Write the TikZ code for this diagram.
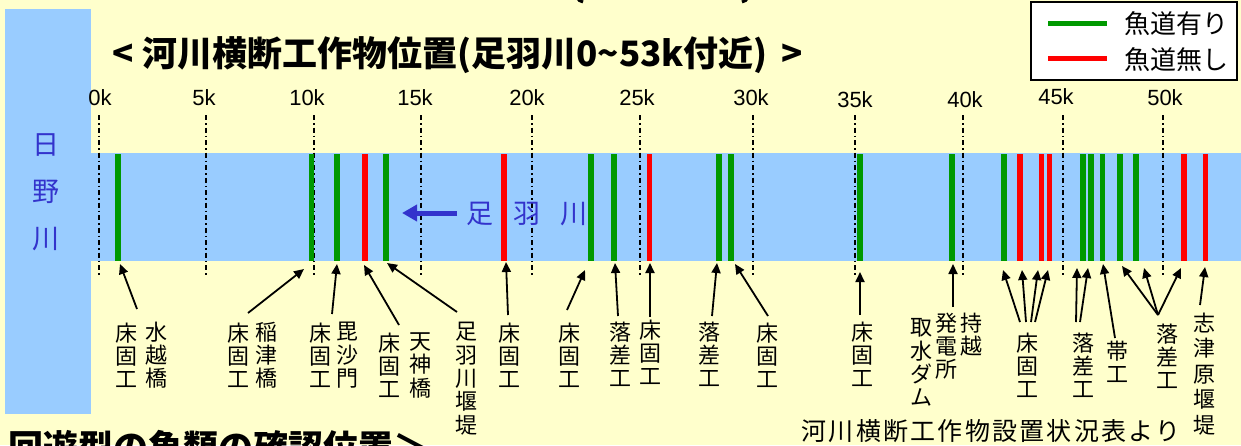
\documentclass[tikz,border=0pt]{standalone}
\usepackage{fontspec}
\setmainfont{Noto Sans CJK JP}
\newfontfamily\latf{Liberation Sans}
\usetikzlibrary{arrows.meta}
\definecolor{bgyellow}{HTML}{FFFFCC}
\definecolor{riverblue}{HTML}{99CCFF}
\definecolor{textblue}{HTML}{3333CC}
\definecolor{fishgreen}{HTML}{009900}
\definecolor{fishred}{HTML}{FF0000}
\begin{document}
\begin{tikzpicture}[x=1pt,y=-1pt,
  barbox/.style={minimum width=5.5pt, minimum height=107.5pt, inner sep=0pt, draw=none},
  gbar/.style={barbox, fill=fishgreen},
  rbar/.style={barbox, fill=fishred},
  kline/.style={line width=1.3pt, dash pattern=on 5pt off 3pt on 1.5pt off 3pt},
  ticklab/.style={font=\latf\fontsize{22}{22}\selectfont, inner sep=0pt},
  lab/.style={font=\fontsize{22}{23.3}\selectfont, align=center, inner sep=0pt},
  arr/.style={line width=1.8pt, -{Triangle[length=10pt,width=9pt]}},
]
\useasboundingbox (0,0) rectangle (1241,445);
\fill[bgyellow] (0,0) rectangle (1241,445);
\clip (0,0) rectangle (1241,445);
% partial elements cut by the frame
\draw[line width=3pt] (577,-3) to[bend right=30] (583,2);
\draw[line width=3pt] (748,-3) to[bend left=30] (742,2);
\node[font=\bfseries\fontsize{35}{35}\selectfont, anchor=base west, inner sep=0pt] (bottitle) at (8,460) {回遊型の魚類の確認位置＞};
% left river box
\fill[riverblue] (5,9) rectangle (91,414);
\node[font=\fontsize{27}{47}\selectfont, text=textblue, align=center, inner sep=0pt] (hino) at (46,192) {日\\野\\川};
% river band
\fill[riverblue] (91,153) rectangle (1241,261);
% title
\node[font=\bfseries\fontsize{35}{35}\selectfont, anchor=west, inner sep=0pt] (title) at (112,55) {<\hspace{9pt}河川横断工作物位置(足羽川0\textasciitilde53k付近)\hspace{14pt}>};
% km ticks
\foreach \x/\lx/\t/\ly in {99/100/0k/98, 206/204/5k/98, 314/307/10k/98, 421/415/15k/98, 532/527/20k/98, 640/637/25k/98, 753/751/30k/98, 855/855/35k/100, 963/965/40k/100, 1063/1056/45k/97, 1163/1165/50k/98}{
  \draw[kline] (\x,115) -- (\x,275);
  \node[ticklab] (k\t) at (\lx,\ly) {\t};
}
% bars
\foreach \x/\s [count=\i] in {118/gbar, 311.5/gbar, 337/gbar, 365/rbar, 386/gbar, 504/rbar, 591/gbar, 614/gbar, 649.5/rbar, 719/gbar, 731/gbar, 860/gbar, 952/gbar, 1004/gbar, 1020/rbar, 1041.5/rbar, 1049.5/rbar, 1083/gbar, 1091/gbar, 1102.5/gbar, 1120/gbar, 1136/gbar, 1184/rbar, 1205.5/rbar}{
  \node[\s] (bar\i) at (\x,207.3) {};
}
% flow arrow and river name
\node[font=\fontsize{27}{27}\selectfont, text=textblue, anchor=west, inner sep=0pt] (asuwa) at (466,214) {足\hspace{20pt}羽\hspace{20pt}川};
\coordinate (flowtail) at (457,213);
\coordinate (flowhead) at (402,213);
\draw[textblue, line width=5pt, -{Triangle[length=15pt,width=16pt]}] (flowtail) -- (flowhead);
% legend
\node[draw=black, line width=1.2pt, fill=white, minimum width=206pt, minimum height=78pt, inner sep=0pt] (legend) at (1134,41) {};
\coordinate (lg1) at (1048,23); \coordinate (lg2) at (1107,23);
\coordinate (lr1) at (1048,58); \coordinate (lr2) at (1107,58);
\draw[fishgreen, line width=5pt] (lg1) -- (lg2);
\draw[fishred, line width=5pt] (lr1) -- (lr2);
\node[font=\fontsize{26}{26}\selectfont, inner sep=0pt] (lgt) at (1176,24) {魚道有り};
\node[font=\fontsize{26}{26}\selectfont, inner sep=0pt] (lrt) at (1176,60) {魚道無し};
% labels
\node[lab] (l1a) at (126,355.3) {床\\固\\工};
\node[lab] (l1b) at (156,355.3) {水\\越\\橋};
\node[lab] (l2a) at (238,355.3) {床\\固\\工};
\node[lab] (l2b) at (266,355.3) {稲\\津\\橋};
\node[lab] (l3a) at (320,355.3) {床\\固\\工};
\node[lab] (l3b) at (347,355.3) {毘\\沙\\門};
\node[lab] (l4a) at (389,365.3) {床\\固\\工};
\node[lab] (l4b) at (420,365.3) {天\\神\\橋};
\node[lab] (l5) at (466,378.6) {足\\羽\\川\\堰\\堤};
\node[lab] (l6) at (509,355.3) {床\\固\\工};
\node[lab] (l7) at (569,355.3) {床\\固\\工};
\node[lab] (l8) at (620,354.3) {落\\差\\工};
\node[lab] (l9) at (650,352.3) {床\\固\\工};
\node[lab] (l10) at (709,354.3) {落\\差\\工};
\node[lab] (l11) at (767,355.3) {床\\固\\工};
\node[lab] (l12) at (862,354.3) {床\\固\\工};
\node[lab] (l13a) at (921,362.5) {取\\水\\ダ\\ム};
\node[lab] (l13b) at (946,346.3) {発\\電\\所};
\node[lab] (l13c) at (971,334.6) {持\\越};
\node[lab] (l14) at (1027,365.3) {床\\固\\工};
\node[lab] (l15) at (1083,365.3) {落\\差\\工};
\node[lab] (l16) at (1117,361.6) {帯\\工};
\node[lab] (l17) at (1167,356.3) {落\\差\\工};
\node[lab, font=\fontsize{22}{25.5}\selectfont] (l18) at (1204,374) {志\\津\\原\\堰\\堤};
\node[font=\fontsize{25}{25}\selectfont\addfontfeatures{LetterSpace=9}, inner sep=0pt] (src) at (991,431) {河川横断工作物設置状況表より};
% arrows
\foreach \i/\tx/\ty/\hx/\hy in {1/137/309/120/264, 2/248/313/304/269, 3/332/314/337/264, 4/399/325/364/265, 5/457/312/387/263, 6/508/315/506/262, 7/567/310/585/270, 8/618/316/615/263, 9/650/317/650/263, 10/712/316/717/263, 11/768/316/735/264, 12/860/315/860/272, 13/953/307/953/264, 14/1020/322/1003/270, 15/1026/322/1022/270, 16/1031/322/1038/270, 17/1035/322/1048/270, 18/1076/322/1077/268, 19/1080/322/1088/268, 20/1115/338/1103/264, 21/1158/315/1122/266, 22/1158/315/1144/268, 23/1158/315/1181/268, 24/1200/305/1205/267}{
  \coordinate (at\i) at (\tx,\ty);
  \coordinate (ah\i) at (\hx,\hy);
  \draw[arr] (at\i) -- (ah\i);
}
\end{tikzpicture}
\end{document}
